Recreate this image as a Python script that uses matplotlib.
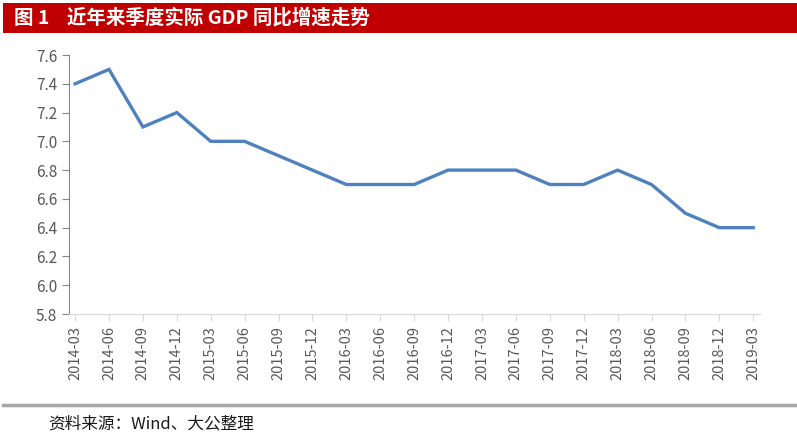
import numpy as np
import matplotlib.pyplot as plt

plt.rcParams['font.family'] = ['Noto Sans CJK SC', 'DejaVu Sans']

quarters = ['2014-03', '2014-06', '2014-09', '2014-12', '2015-03', '2015-06', '2015-09',
            '2015-12', '2016-03', '2016-06', '2016-09', '2016-12', '2017-03', '2017-06',
            '2017-09', '2017-12', '2018-03', '2018-06', '2018-09', '2018-12', '2019-03']
gdp = [7.4, 7.5, 7.1, 7.2, 7.0, 7.0, 6.9, 6.8, 6.7, 6.7, 6.7, 6.8, 6.8, 6.8,
       6.7, 6.7, 6.8, 6.7, 6.5, 6.4, 6.4]
yticks = [5.8, 6.0, 6.2, 6.4, 6.6, 6.8, 7.0, 7.2, 7.4, 7.6]

fig = plt.figure(figsize=(7.97, 4.4), dpi=100)

# 标题栏
bar = fig.add_axes([0.004, 1 - 33/440, 0.996, 30/440])
bar.set_facecolor('#C00000')
bar.set_xticks([]); bar.set_yticks([])
for s in bar.spines.values():
    s.set_visible(False)
fig.text(14/797, 1 - 18/440, '图 1    近年来季度实际 GDP 同比增速走势', color='white',
         fontsize=14, fontweight='bold', va='center', ha='left')

ax = fig.add_axes([69/797, 1 - 314/440, (760 - 69)/797, (314 - 55)/440])
x = np.arange(len(quarters))
ax.plot(x, gdp, color='#4F81BD', lw=2.4, solid_joinstyle='miter')
ax.set_ylim(5.8, 7.6)
ax.set_yticks(yticks)
ax.set_yticklabels(['%.1f' % v for v in yticks])
ax.set_xlim(-0.18, len(quarters) - 1 + 0.2)
ax.set_xticks(x)
ax.set_xticklabels(quarters, rotation=90)
for s in ['top', 'right']:
    ax.spines[s].set_visible(False)
ax.spines['left'].set_color('#868686')
ax.spines['bottom'].set_color('#D9D9D9')
ax.tick_params(axis='y', colors='#868686', labelcolor='#595959', labelsize=11, length=5)
ax.tick_params(axis='x', colors='#D9D9D9', labelcolor='#595959', labelsize=10.5, length=5)

# 底部分隔线与来源
fig.add_artist(plt.Line2D([3/797, 795/797], [1 - 405/440] * 2, color='#A6A6A6', lw=2.5))
fig.text(48/797, 1 - 424/440, '资料来源：Wind、大公整理', fontsize=12, style='italic',
         color='#1a1a1a', va='center', ha='left')

fig.savefig('out.png', dpi=100)
